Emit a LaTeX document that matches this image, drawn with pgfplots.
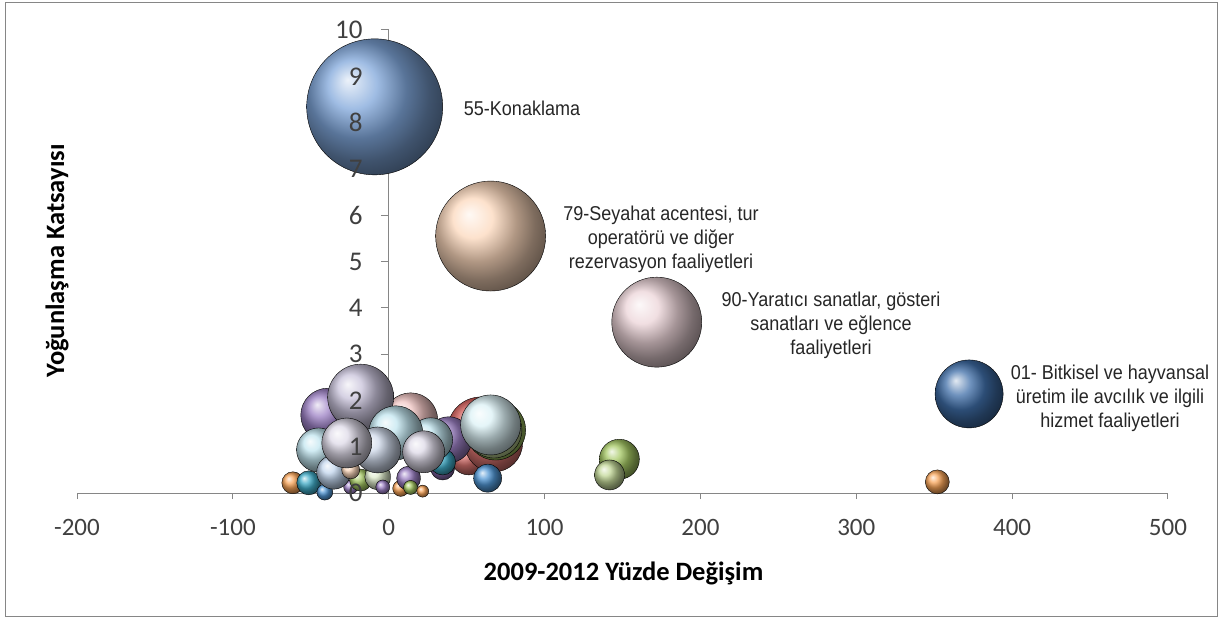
\documentclass[border=0pt]{standalone}
\usepackage{fontspec}
\usepackage{pgfplots}
\pgfplotsset{compat=1.18}
\setmainfont{Carlito}
\newfontfamily\lab[FakeStretch=0.9]{Liberation Sans}
\definecolor{tickc}{HTML}{404040}
\definecolor{linec}{HTML}{868686}
\definecolor{bigblue}{HTML}{7FA6DA}
\definecolor{peach}{HTML}{FCD8BC}
\definecolor{rose}{HTML}{ECD4D8}
\definecolor{navy}{HTML}{3F6EA8}
\definecolor{org}{HTML}{F8A458}
\definecolor{grn}{HTML}{A5C863}
\definecolor{grnl}{HTML}{C3D898}
\definecolor{grnp}{HTML}{DDEACA}
\definecolor{pur}{HTML}{9C80C4}
\definecolor{purd}{HTML}{8468AA}
\definecolor{red1}{HTML}{CC5450}
\definecolor{red2}{HTML}{DA7470}
\definecolor{pnk}{HTML}{F0C4C2}
\definecolor{tea}{HTML}{40ACC8}
\definecolor{blu}{HTML}{5096D4}
\definecolor{cyl}{HTML}{C2E6F0}
\definecolor{cyp}{HTML}{DCF2F6}
\definecolor{lav}{HTML}{C8C2DA}
\definecolor{lavl}{HTML}{DEDAE8}
\definecolor{blg}{HTML}{CFD9EA}
\definecolor{blp}{HTML}{C2D6EE}
% one bubble: colour, x, y, radius in pt
\newcommand{\bub}[4]{\addplot[only marks, mark=ball, mark size=#4pt, mark options={ball color=#1, draw=none}] coordinates {(#2,#3)};}
\begin{document}
\begin{tikzpicture}[x=1pt,y=1pt]
\path[draw=linec, line width=1pt, fill=white] (5.5,2.5) rectangle (1217.5,616.5);
\path (0,0) rectangle (1223,619);
\begin{axis}[
  at={(77pt,126pt)}, anchor=south west,
  scale only axis, width=1091pt, height=463pt,
  xmin=-200, xmax=500, ymin=0, ymax=10,
  axis x line=bottom, axis y line=none,
  xtick={-200,-100,...,500},
  ytick=\empty,
  tick align=outside,
  major tick length=6pt,
  axis line style={linec, line width=1pt, -},
  tick style={linec, line width=1pt},
  xticklabel style={font=\fontsize{25}{28}\selectfont, text=tickc, yshift=-17pt},
  /pgf/number format/assume math mode=true,
  clip=false,
  xlabel={\textbf{2009-2012 Yüzde Değişim}},
  xlabel style={font=\fontsize{26.5}{28}\selectfont, text=black, yshift=-19pt, xshift=1pt},
]
% y axis drawn behind the bubbles
\addplot[linec, line width=1pt] coordinates {(0,0) (0,10)};
\pgfplotsinvokeforeach{1,...,10}{\addplot[linec, line width=1pt] coordinates {(-5,#1) (0,#1)};}
% back of the cluster
\bub{org}{-61.5}{0.22}{11}
\bub{tea}{-51.3}{0.22}{12}
\bub{blu}{-41}{0.02}{8}
\bub{pur}{-39.1}{1.68}{27}
\bub{red1}{59}{1.36}{33}
\bub{red2}{51.3}{0.78}{18}
\bub{red2}{67.3}{1.08}{29}
\bub{grn}{68.6}{1.36}{30}
\bub{grnl}{67.5}{1.36}{28}
\bub{pur}{38.5}{1.15}{23}
\bub{purd}{34.6}{0.54}{12}
\bub{tea}{34.6}{0.67}{13}
\bub{pnk}{14.1}{1.58}{27}
\bub{cyl}{-45}{0.93}{22}
\bub{pur}{-24.4}{0.13}{7}
\bub{grn}{-18}{0.28}{11}
\bub{blp}{-35.3}{0.45}{17}
\bub{peach}{-24.4}{0.50}{9}
\bub{grnp}{-7}{0.35}{13}
\bub{pur}{-3.8}{0.13}{7}
\bub{org}{7.7}{0.10}{8}
\bub{tea}{19.2}{0.65}{9}
\bub{pur}{12.8}{0.32}{12}
\bub{grn}{14}{0.12}{7}
\bub{org}{21.8}{0.04}{6}
\bub{cyl}{26.9}{1.15}{22}
\bub{blu}{63.5}{0.32}{14}
\bub{lav}{-18}{2.07}{33}
\bub{cyl}{4.5}{1.30}{27}
\bub{blg}{-7}{0.93}{23}
\bub{lavl}{22.4}{0.89}{21}
\bub{lavl}{-26.9}{1.08}{25}
\bub{cyp}{65.4}{1.47}{30}
% the outliers
\bub{grn}{148}{0.73}{20}
\bub{grnl}{141.7}{0.39}{15}
\bub{org}{352}{0.24}{12}
\bub{navy}{372.4}{2.14}{34}
\bub{rose}{172}{3.69}{45}
\bub{peach}{65.4}{5.55}{55}
\bub{bigblue}{-9}{8.34}{68}
\end{axis}
% tick numbers of the vertical axis sit over the bubbles
\foreach \v in {0,...,10}{
  \node[anchor=east, font=\fontsize{27}{28}\selectfont, text=tickc] at (366,{126+46.3*\v}) {\v};
}
\node[font=\lab\fontsize{20}{24}\selectfont, align=center, text=black!85] at (522,511) {55-Konaklama};
\node[font=\lab\fontsize{20}{24}\selectfont, align=center, text=black!85] at (661,380) {79-Seyahat acentesi, tur\\operatörü ve diğer\\rezervasyon faaliyetleri};
\node[font=\lab\fontsize{20}{24}\selectfont, align=center, text=black!85] at (831,294) {90-Yaratıcı sanatlar, gösteri\\sanatları ve eğlence\\faaliyetleri};
\node[font=\lab\fontsize{20}{24}\selectfont, align=center, text=black!85] at (1110,221) {01- Bitkisel ve hayvansal\\üretim ile avcılık ve ilgili\\hizmet faaliyetleri};
\node[rotate=90, font=\fontsize{26.5}{28}\selectfont\bfseries] at (57,358) {Yoğunlaşma Katsayısı};
\end{tikzpicture}
\end{document}
